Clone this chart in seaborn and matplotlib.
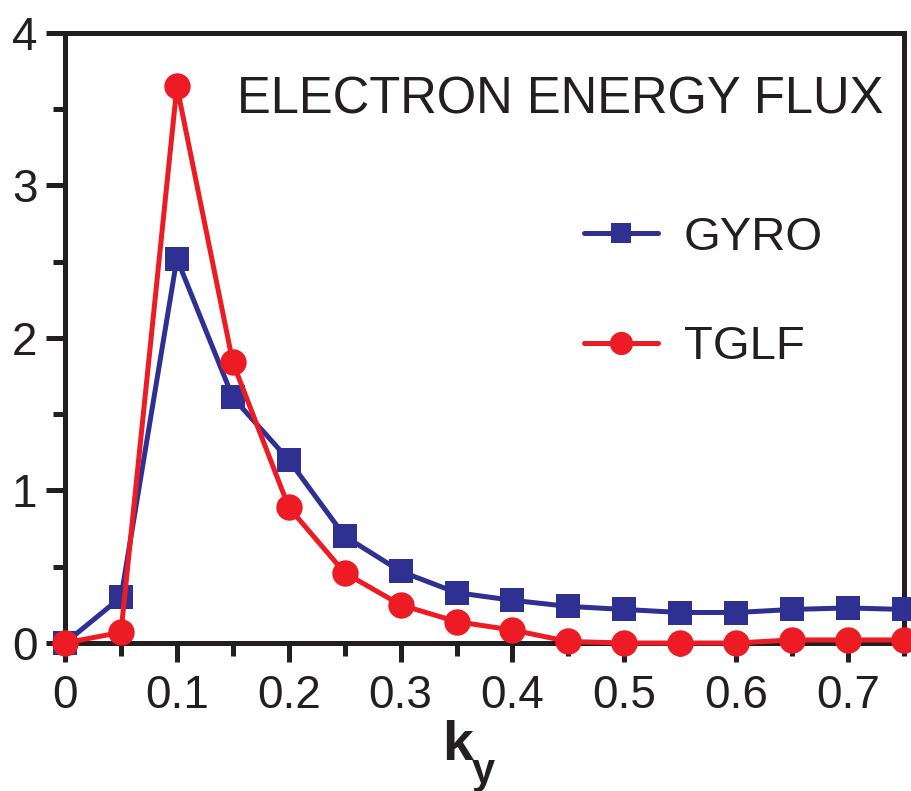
import numpy as np
import pandas as pd
import seaborn as sns
import matplotlib.pyplot as plt

# data
ky = [0.0, 0.05, 0.1, 0.15, 0.2, 0.25, 0.3, 0.35, 0.4, 0.45, 0.5, 0.55, 0.6, 0.65, 0.7, 0.75]
gyro = [0.0, 0.30, 2.52, 1.61, 1.20, 0.70, 0.47, 0.33, 0.28, 0.24, 0.22, 0.20, 0.20, 0.22, 0.23, 0.22]
tglf = [0.0, 0.07, 3.65, 1.84, 0.89, 0.46, 0.25, 0.14, 0.085, 0.01, 0.0, 0.0, 0.0, 0.02, 0.02, 0.02]

blue = "#2E3192"
red = "#ED1C24"
ink = "#231F20"

sns.set_style("ticks")
plt.rcParams["font.family"] = ["Liberation Sans", "DejaVu Sans"]

df = pd.DataFrame({"ky": ky, "GYRO": gyro, "TGLF": tglf})

fig = plt.figure(figsize=(9.11, 7.91), dpi=100)
ax = fig.add_axes([0.0714, 0.1871, 0.9209, 0.7712])

sns.lineplot(data=df, x="ky", y="GYRO", ax=ax, color=blue, lw=3.6, marker="s",
             markersize=17, markeredgewidth=0, label="GYRO", clip_on=False, zorder=3)
sns.lineplot(data=df, x="ky", y="TGLF", ax=ax, color=red, lw=3.6, marker="o",
             markersize=19, markeredgewidth=0, label="TGLF", clip_on=False, zorder=4)

ax.set_xlim(0, 0.75)
ax.set_ylim(0, 4)
ax.set_xticks(np.arange(0, 0.71, 0.1))
ax.set_xticklabels(["0", "0.1", "0.2", "0.3", "0.4", "0.5", "0.6", "0.7"])
ax.set_xticks(np.arange(0.05, 0.76, 0.1), minor=True)
ax.set_yticks([0, 1, 2, 3, 4])
ax.set_yticks([0.5, 1.5, 2.5, 3.5], minor=True)

for s in ax.spines.values():
    s.set_visible(True)
    s.set_linewidth(3.6)
    s.set_color(ink)
    s.set_zorder(2)

ax.tick_params(which="major", direction="out", length=14, width=3.6, color=ink,
               labelsize=33, labelcolor=ink, pad=6)
ax.tick_params(which="minor", direction="out", length=9, width=3.6, color=ink)
ax.tick_params(axis="x", which="major", pad=8)

# k with a bold subscript y
ax.set_xlabel("k", fontsize=40, fontweight="bold", color=ink, va="baseline")
ax.xaxis.set_label_coords(0.468, -0.192)
ax.text(0.485, -0.230, "y", transform=ax.transAxes, fontsize=30,
        fontweight="bold", color=ink, ha="left", va="baseline")
ax.set_ylabel("")

ax.text(0.205, 0.89, "ELECTRON ENERGY FLUX", transform=ax.transAxes,
        fontsize=36.5, color=ink, va="center", ha="left")

leg = ax.legend(loc="upper left", bbox_to_anchor=(0.618, 0.70), frameon=False,
                fontsize=34, handlelength=1.57, handletextpad=0.55,
                labelspacing=1.38, borderpad=0, borderaxespad=0, markerscale=0.88)
for t in leg.get_texts():
    t.set_color(ink)

fig.savefig("out.png", dpi=100)
